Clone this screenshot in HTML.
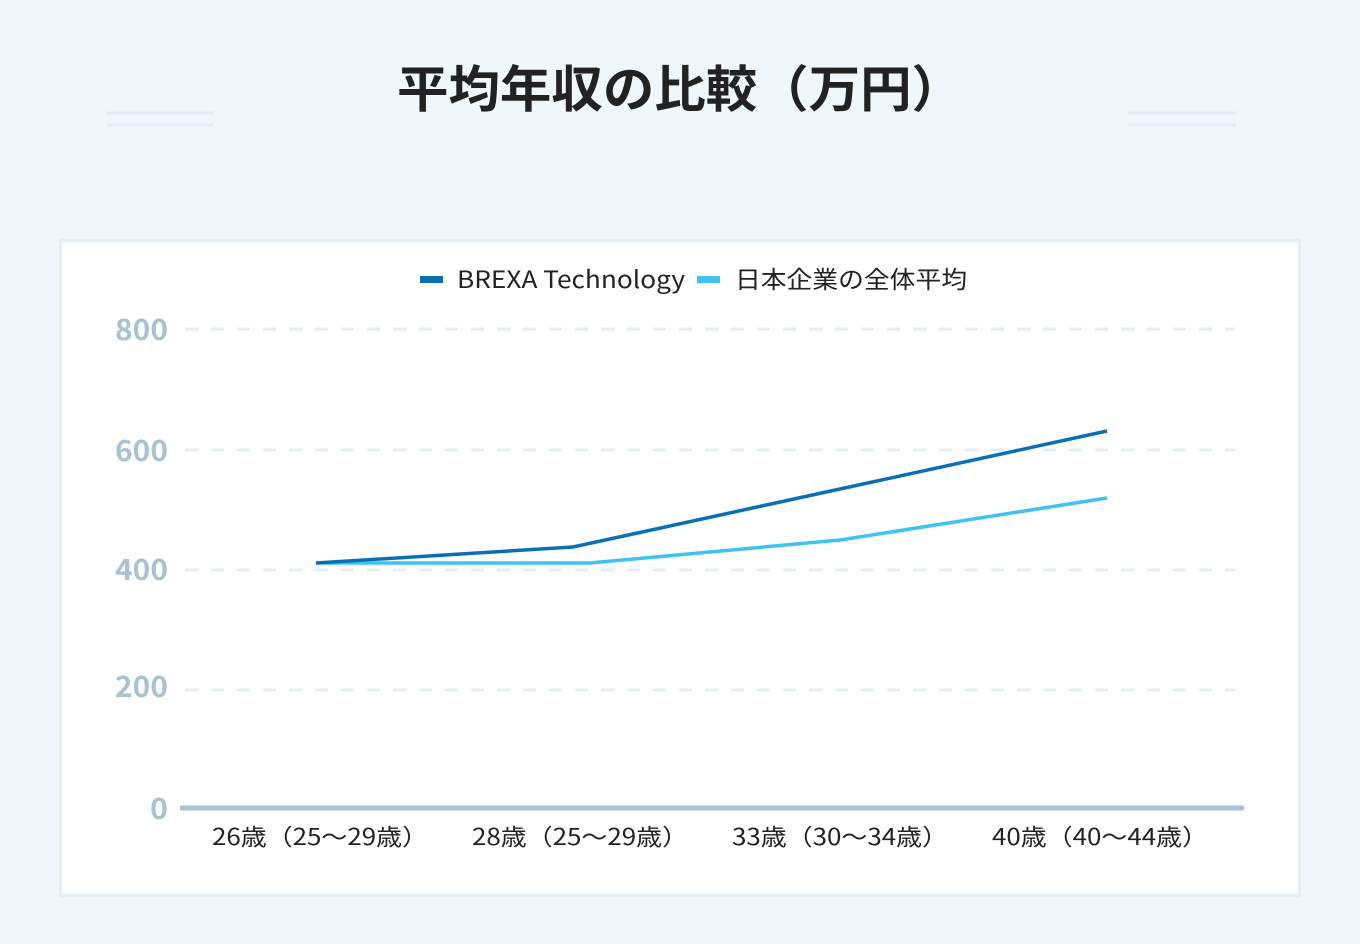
<!DOCTYPE html>
<html><head><meta charset="utf-8"><style>
body{margin:0;width:1360px;height:944px;background:#eff7fb;overflow:hidden;font-family:"Liberation Sans","Noto Sans CJK JP",sans-serif;}
</style></head><body>
<svg width="1360" height="944" xmlns="http://www.w3.org/2000/svg" style="position:absolute;left:0;top:0">
<text x="397" y="107" textLength="566" lengthAdjust="spacingAndGlyphs" font-size="50" font-weight="bold" fill="#222" font-family="'Noto Sans CJK JP',sans-serif">平均年収の比較（万円）</text>
<g stroke="#e1ecf2" stroke-width="3">
<line x1="107" y1="113" x2="214" y2="113"/><line x1="107" y1="125" x2="214" y2="125"/>
<line x1="1128" y1="113" x2="1236" y2="113"/><line x1="1128" y1="125" x2="1236" y2="125"/>
</g>
<rect x="60.5" y="240.5" width="1239" height="655" fill="#fff" stroke="#e2eef3" stroke-width="3"/>
<rect x="420" y="276" width="23" height="7" fill="#0a6fb5"/>
<text x="457" y="288" textLength="228" lengthAdjust="spacingAndGlyphs" font-size="24" fill="#222" font-family="'Noto Sans CJK JP',sans-serif">BREXA Technology</text>
<rect x="697" y="276" width="23" height="7" fill="#3ec3f2"/>
<text x="735" y="288" textLength="232" lengthAdjust="spacingAndGlyphs" font-size="24" fill="#222" font-family="'Noto Sans CJK JP',sans-serif">日本企業の全体平均</text>
<g stroke="#e3eef4" stroke-width="3" stroke-dasharray="13,13">
<line x1="185" y1="329" x2="1235" y2="329"/><line x1="185" y1="450" x2="1235" y2="450"/>
<line x1="185" y1="570" x2="1235" y2="570"/><line x1="185" y1="690" x2="1235" y2="690"/>
</g>
<g font-size="29" font-weight="bold" fill="#a9c3d3" font-family="'Noto Sans CJK JP',sans-serif">
<text x="115" y="340" textLength="53" lengthAdjust="spacingAndGlyphs">800</text>
<text x="115" y="461" textLength="53" lengthAdjust="spacingAndGlyphs">600</text>
<text x="115" y="580" textLength="53" lengthAdjust="spacingAndGlyphs">400</text>
<text x="115" y="697" textLength="53" lengthAdjust="spacingAndGlyphs">200</text>
<text x="150" y="819" textLength="18" lengthAdjust="spacingAndGlyphs">0</text>
</g>
<line x1="180" y1="808" x2="1244" y2="808" stroke="#a9c3d3" stroke-width="5"/>
<polyline points="316,563 590,563 840,540 1107,498" fill="none" stroke="#3ec3f2" stroke-width="3.5"/>
<polyline points="316,563 573,547 840,489 1107,431" fill="none" stroke="#0a6fb5" stroke-width="3.5"/>
<g font-size="23" fill="#222" font-family="'Noto Sans CJK JP',sans-serif">
<text x="212" y="845" textLength="216" lengthAdjust="spacingAndGlyphs">26歳（25〜29歳）</text>
<text x="472" y="845" textLength="216" lengthAdjust="spacingAndGlyphs">28歳（25〜29歳）</text>
<text x="732" y="845" textLength="216" lengthAdjust="spacingAndGlyphs">33歳（30〜34歳）</text>
<text x="992" y="845" textLength="216" lengthAdjust="spacingAndGlyphs">40歳（40〜44歳）</text>
</g>
</svg>
</body></html>
